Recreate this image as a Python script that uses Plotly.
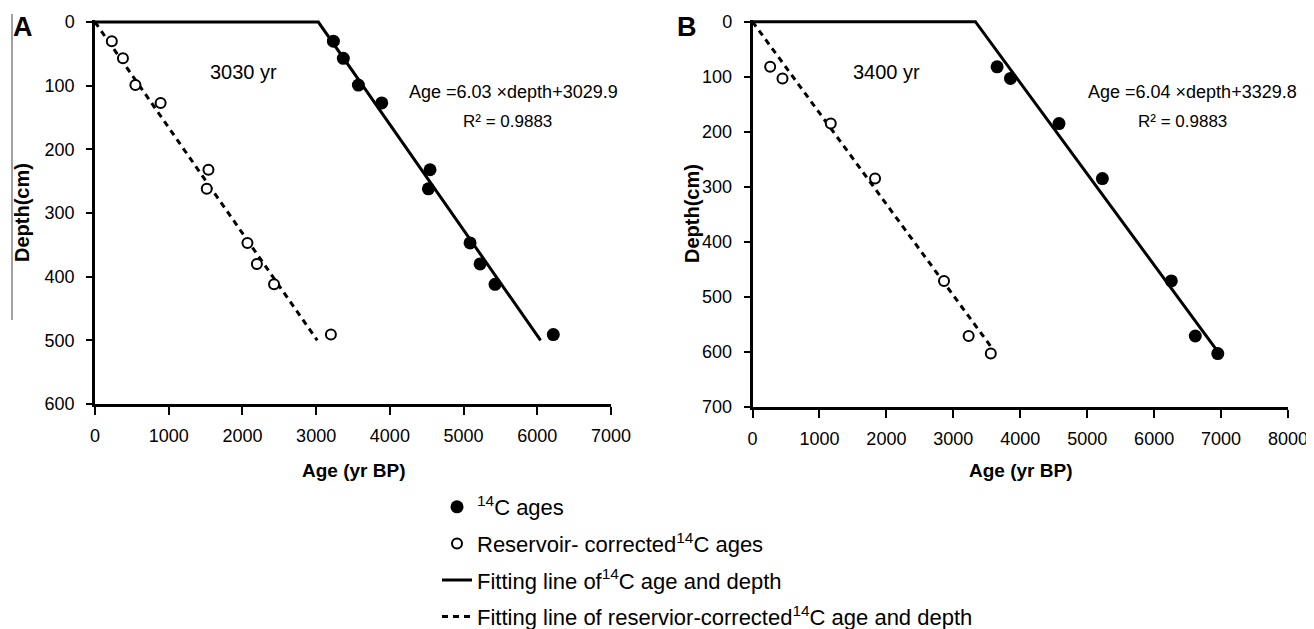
import plotly.graph_objects as go

# page body adds an 8px margin; the figure is sized to fill the rest of the window
OFF = 8
W, H = 1314 - OFF, 629 - OFF

# ---------------- data ----------------
# Panel A
a_depth = [30, 57, 99, 127, 232, 262, 347, 380, 412, 491]
a_age_14c = [3234, 3369, 3573, 3890, 4545, 4523, 5088, 5224, 5427, 6217]
a_age_corr = [228, 379, 548, 890, 1539, 1516, 2068, 2196, 2429, 3200]
a_fit_age = [0, 3030, 6045]
a_fit_depth = [0, 0, 500]
a_fitc_age = [0, 3015]
a_fitc_depth = [0, 500]

# Panel B
b_depth = [82, 103, 185, 285, 471, 571, 603]
b_age_14c = [3654, 3854, 4579, 5227, 6257, 6615, 6951]
b_age_corr = [264, 448, 1169, 1831, 2861, 3229, 3560]
b_fit_age = [0, 3330, 6954]
b_fit_depth = [0, 0, 600]
b_fitc_age = [0, 3560]
b_fitc_depth = [0, 590]

a_xticks = [0, 1000, 2000, 3000, 4000, 5000, 6000, 7000]
a_yticks = [0, 100, 200, 300, 400, 500, 600]
b_xticks = [0, 1000, 2000, 3000, 4000, 5000, 6000, 7000, 8000]
b_yticks = [0, 100, 200, 300, 400, 500, 600, 700]

names = ["<sup>14</sup>C ages",
         "Reservoir- corrected<sup>14</sup>C ages",
         "Fitting line of<sup>14</sup>C age and depth",
         "Fitting line of reservior-corrected<sup>14</sup>C age and depth"]

FONT = "Liberation Sans, Arial, sans-serif"


def fx(p):
    return (p - OFF) / W


def fy(p):
    return 1 - (p - OFF) / H


fig = go.Figure()


def add_panel(xa, ya, age14, agecorr, depth, fit_age, fit_depth, fitc_age, fitc_depth, show):
    fig.add_trace(go.Scatter(x=fitc_age, y=fitc_depth, mode="lines", name=names[3],
                             line=dict(color="black", width=3, dash="6px,5px"),
                             xaxis=xa, yaxis=ya, showlegend=show, legendrank=4,
                             legendgroup="g4"))
    fig.add_trace(go.Scatter(x=fit_age, y=fit_depth, mode="lines", name=names[2],
                             line=dict(color="black", width=3),
                             xaxis=xa, yaxis=ya, showlegend=show, legendrank=3,
                             legendgroup="g3"))
    fig.add_trace(go.Scatter(x=agecorr, y=depth, mode="markers", name=names[1],
                             marker=dict(symbol="circle", size=10, color="white",
                                         line=dict(color="black", width=2)),
                             xaxis=xa, yaxis=ya, showlegend=show, legendrank=2,
                             legendgroup="g2"))
    fig.add_trace(go.Scatter(x=age14, y=depth, mode="markers", name=names[0],
                             marker=dict(symbol="circle", size=13, color="black"),
                             xaxis=xa, yaxis=ya, showlegend=show, legendrank=1,
                             legendgroup="g1"))


add_panel("x", "y", a_age_14c, a_age_corr, a_depth, a_fit_age, a_fit_depth,
          a_fitc_age, a_fitc_depth, True)
add_panel("x2", "y2", b_age_14c, b_age_corr, b_depth, b_fit_age, b_fit_depth,
          b_fitc_age, b_fitc_depth, False)

axis_common = dict(showline=True, linecolor="black", linewidth=2.5, ticks="outside",
                   tickwidth=2, tickcolor="black", showgrid=False, zeroline=False,
                   automargin=False,
                   tickfont=dict(family=FONT, size=18, color="black"))

fig.update_layout(
    width=W, height=H,
    margin=dict(l=0, r=0, t=0, b=0, pad=0, autoexpand=False),
    paper_bgcolor="white", plot_bgcolor="white",
    font=dict(family=FONT, color="black"),
    xaxis=dict(domain=[fx(95), fx(611)], range=[0, 7000], tickvals=a_xticks,
               anchor="y", ticklen=8, ticklabelstandoff=6, **axis_common),
    yaxis=dict(domain=[fy(404), fy(19.5)], range=[600, -4], tickvals=a_yticks,
               anchor="x", ticklen=6, ticklabelstandoff=8, **axis_common),
    xaxis2=dict(domain=[fx(752.5), fx(1288)], range=[0, 8000], tickvals=b_xticks,
                anchor="y2", ticklen=8, ticklabelstandoff=6, **axis_common),
    yaxis2=dict(domain=[fy(407), fy(19.5)], range=[700, -4], tickvals=b_yticks,
                anchor="x2", ticklen=6, ticklabelstandoff=8, **axis_common),
    legend=dict(x=fx(437), y=fy(486), xanchor="left", yanchor="top",
                font=dict(family=FONT, size=22, color="black"),
                traceorder="grouped", tracegroupgap=5, bgcolor="rgba(0,0,0,0)"),
    showlegend=True,
)

ann = []
# axis titles
for cx in [(95 + 611) / 2, (752.5 + 1288) / 2]:
    ann.append(dict(x=fx(cx), y=fy(470), xref="paper", yref="paper",
                    text="<b>Age (yr BP)</b>",
                    showarrow=False, xanchor="center", yanchor="middle",
                    font=dict(family=FONT, size=19, color="black")))
for cx in [22, 692]:
    ann.append(dict(x=fx(cx), y=fy(213), xref="paper", yref="paper", text="<b>Depth(cm)</b>",
                    showarrow=False, textangle=-90, xanchor="center", yanchor="middle",
                    font=dict(family=FONT, size=20, color="black")))
# panel letters
ann.append(dict(x=fx(23), y=fy(27), xref="paper", yref="paper", text="<b>A</b>",
                showarrow=False, xanchor="center", yanchor="middle",
                font=dict(family=FONT, size=27, color="black")))
ann.append(dict(x=fx(687), y=fy(27), xref="paper", yref="paper", text="<b>B</b>",
                showarrow=False, xanchor="center", yanchor="middle",
                font=dict(family=FONT, size=27, color="black")))
# in-plot texts
txts = [("x", "y", 2010, 78, "3030 yr", 20),
        ("x", "y", 5672, 110, "Age =6.03 \u00d7depth+3029.9", 18),
        ("x", "y", 5590, 157, "R\u00b2 = 0.9883", 17),
        ("x2", "y2", 2007, 91, "3400 yr", 20),
        ("x2", "y2", 6575, 128, "Age =6.04 \u00d7depth+3329.8", 18),
        ("x2", "y2", 6425, 182, "R\u00b2 = 0.9883", 17)]
for xr, yr, xv, yv, t, fs in txts:
    ann.append(dict(x=xv, y=yv, xref=xr, yref=yr, text=t, showarrow=False,
                    xanchor="center", yanchor="middle",
                    font=dict(family=FONT, size=fs, color="black")))
fig.update_layout(annotations=ann)

fig.add_shape(type="line", xref="paper", yref="paper", x0=fx(12), x1=fx(12),
              y0=fy(14), y1=fy(320), line=dict(color="#444", width=1))

fig.write_html("out.html")
